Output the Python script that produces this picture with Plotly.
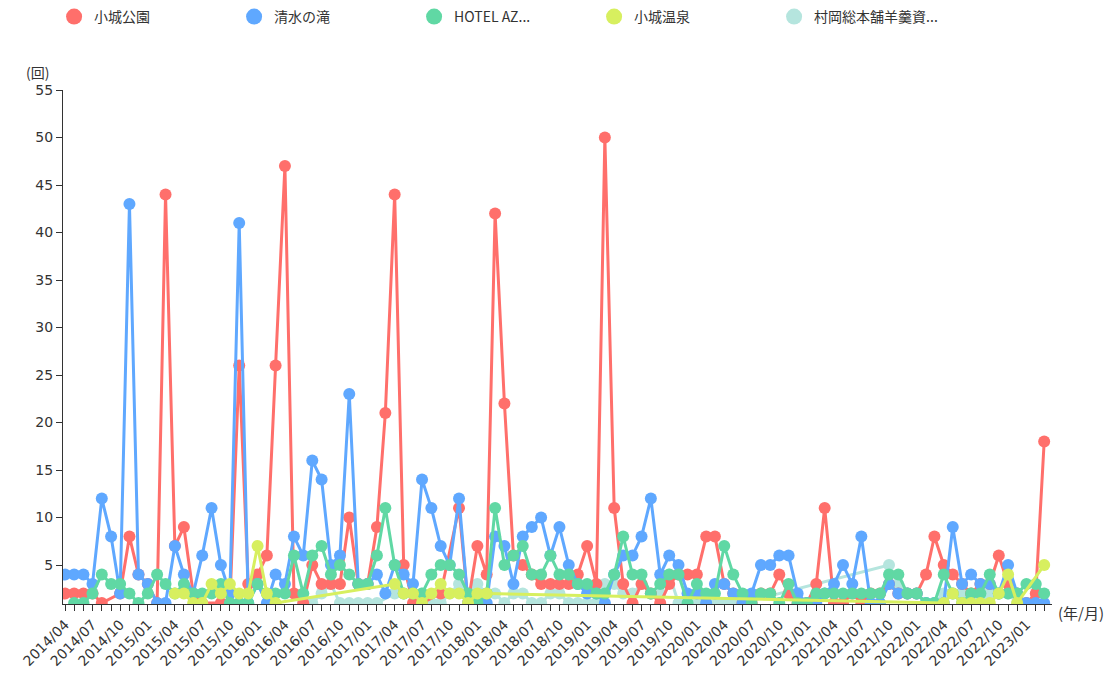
import plotly.graph_objects as go

# Monthly visit counts, 2014/04 – 2023/03 (None = no record that month)
months = [f"{2014 + (3 + k) // 12}-{(3 + k) % 12 + 1:02d}-01" for k in range(108)]

names = ["小城公園", "清水の滝", "HOTEL AZ...", "小城温泉", "村岡総本舗羊羹資..."]
colors = ["#ff6f6b", "#5fa8ff", "#60d8a4", "#d7ef5f", "#b5e5de"]

ogi_park = [
    2, 2, 2, 2, 1, None, 2, 8, 4, 3, 1, 44,
    7, 9, 2, 1, None, 1, 1, 26, 3, 4, 6, 26,
    47, 2, 1, 5, 3, 3, 3, 10, 3, 3, 9, 21,
    44, 5, 1, 1, None, 2, None, 11, 1, 7, 4, 42,
    22, 6, 5, 4, 3, 3, 3, 3, 4, 7, 3, 50,
    11, 3, 1, 3, 2, 1, 3, 4, 4, 4, 8, 8,
    3, 2, 1, 1, 2, 2, 4, 2, 1, 1, 3, 11,
    1, 1, 2, 1, 2, 2, 3, 2, 2, 2, 4, 8,
    5, 4, 3, 2, 3, 3, 6, 3, 2, 1, 2, 18,
]
kiyomizu_falls = [
    4, 4, 4, 3, 12, 8, 2, 43, 4, 3, 1, 1,
    7, 4, 2, 6, 11, 5, 2, 41, 1, 3, 1, 4,
    3, 8, 6, 16, 14, 5, 6, 23, 3, 3, 4, 2,
    5, 4, 3, 14, 11, 7, 5, 12, 1, 1, 1, 8,
    7, 3, 8, 9, 10, 6, 9, 5, 3, 2, 2, 1,
    4, 6, 6, 8, 12, 4, 6, 5, 2, 2, 1, 3,
    3, 2, 1, 2, 5, 5, 6, 6, 2, 1, 1, 2,
    3, 5, 3, 8, 1, 1, 3, 2, 2, 2, 1, 1,
    1, 9, 3, 4, 3, 3, 2, 5, 2, 1, 1, 1,
]
hotel_az = [
    None, 1, 1, 2, 4, 3, 3, 2, 1, 2, 4, 3,
    2, 3, 2, 2, 2, 3, 1, 1, 1, 3, 2, 2,
    2, 6, 2, 6, 7, 4, 5, 4, 3, 3, 6, 11,
    5, 2, 2, 2, 4, 5, 5, 4, 2, 1, 2, 11,
    5, 6, 7, 4, 4, 6, 4, 4, 3, 3, 2, 2,
    4, 8, 4, 4, 2, 3, 4, 4, 1, 3, 2, 2,
    7, 4, 2, 1, 2, 2, 1, 3, 1, 1, 2, 2,
    2, 2, 2, 2, 2, 2, 4, 4, 2, 2, 1, 1,
    4, 2, 1, 2, 2, 4, 2, 2, 2, 3, 3, 2,
]
ogi_onsen = (
    [None] * 12
    + [2, 2, 1, 1, 3, 2, 3, 2, 2, 7, 2, 1]
    + [None] * 12
    + [3, 2, 2, 1, 2, 3, 2, 2, 1, 2, 2]
    + [None] * 49
    + [1, 2, 1, 1, 1, 1, 2, 4, 1, None, None, 5]
)
muraoka = (
    [None] * 26
    + [1, 1, 2, 3, 1, 1, 1, 1, 1, None,
       2, 2, 2, 2, 1, 1, 2, 3, 2, 3, 2, 2,
       1, 2, 2, 1, 1, 2, 2, 1, 1, 1, 1, 3,
       3, 2, 2, 3, 2, 2, 4, 1, 1, 1, 1, 1,
       1, 1, 1]
    + [None] * 15
    + [5, 3, 2, 2, 1, 1, 2, 2, 2, 2, 1, 2, 2, 2, 1, None, None, None]
)

series = [ogi_park, kiyomizu_falls, hotel_az, ogi_onsen, muraoka]
draw_order = [4, 0, 1, 2, 3]

fig = go.Figure()
for idx in draw_order:
    fig.add_trace(go.Scatter(
        x=months, y=series[idx], mode="lines+markers",
        line=dict(color=colors[idx], width=3),
        marker=dict(color=colors[idx], size=12),
        connectgaps=True, showlegend=False, legendgroup=names[idx],
        name=names[idx],
    ))

# legend entries shown as plain circles
for idx, nm in enumerate(names):
    fig.add_trace(go.Scatter(
        x=[None], y=[None], mode="markers", name=nm, legendgroup=nm,
        marker=dict(color=colors[idx], size=20), legendrank=idx + 1,
    ))

jp_font = "Noto Sans CJK JP, Noto Sans, sans-serif"
num_font = "DejaVu Sans, Noto Sans CJK JP, sans-serif"
fig.update_layout(
    width=1114, height=674,
    margin=dict(l=63, r=62, t=90, b=70, autoexpand=False),
    paper_bgcolor="white", plot_bgcolor="white",
    font=dict(family=jp_font, size=14, color="#333333"),
    legend=dict(
        orientation="h", x=-0.009, xanchor="left", y=1.142, yanchor="middle",
        entrywidth=135, entrywidthmode="pixels", itemsizing="trace",
        font=dict(family=jp_font, size=14, color="#333333"), traceorder="normal",
    ),
    xaxis=dict(
        type="date", range=["2014-03-25", "2023-03-27"],
        tick0="2014-04-01", dtick="M3", tickformat="%Y/%m", tickangle=-45,
        ticks="outside", ticklen=6, tickcolor="#333333",
        minor=dict(dtick="M1", ticks="outside", ticklen=6, tickcolor="#333333"),
        showline=True, linecolor="#333333", linewidth=1,
        showgrid=False, zeroline=False,
        tickfont=dict(family=num_font, size=14, color="#333333"),
    ),
    yaxis=dict(
        range=[0.9, 55], tick0=0, dtick=5,
        ticks="outside", ticklen=6, tickcolor="#333333",
        showline=True, linecolor="#333333", linewidth=1,
        showgrid=False, zeroline=False,
        tickfont=dict(family=num_font, size=14, color="#333333"),
    ),
    annotations=[
        dict(text="(回)", xref="paper", yref="paper", x=-0.026, y=1.035,
             xanchor="center", yanchor="middle", showarrow=False,
             font=dict(family=jp_font, size=14, color="#333333")),
        dict(text="(年/月)", xref="paper", yref="paper", x=1.004, y=-0.016,
             xanchor="left", yanchor="middle", showarrow=False,
             font=dict(family=jp_font, size=15, color="#333333")),
    ],
)

fig.write_html("out.html")
